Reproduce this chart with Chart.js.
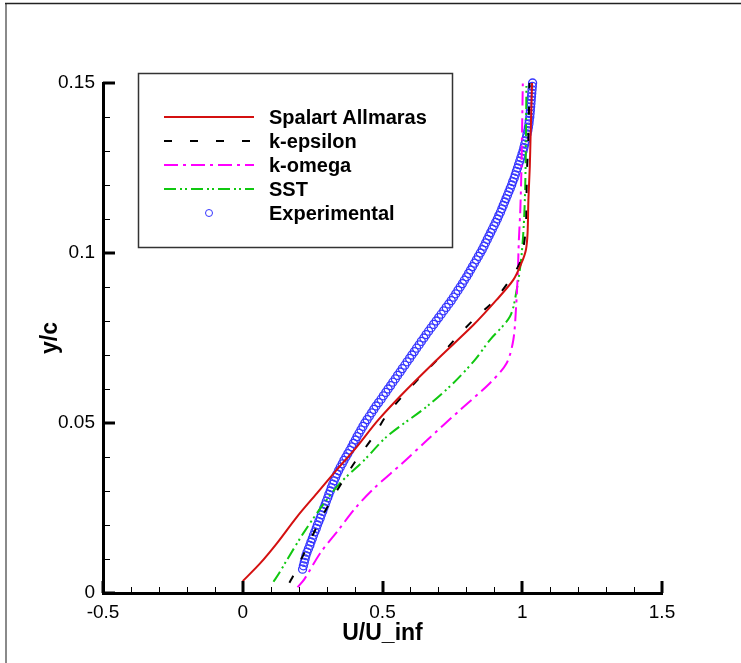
<!DOCTYPE html>
<html>
<head>
<meta charset="utf-8">
<title>Velocity profile</title>
<script src="https://cdn.jsdelivr.net/npm/chart.js@4.4.1/dist/chart.umd.min.js"></script>
<style>
  html, body { margin: 0; padding: 0; background: #fff; }
  #wrap { width: 741px; height: 663px; position: relative; }
</style>
</head>
<body>
<div id="wrap"><canvas id="profileChart" width="741" height="663"></canvas></div>
<script>
/* ---------- data: U/U_inf against y/c ---------- */
const seriesNames = ["Spalart Allmaras", "k-epsilon", "k-omega", "SST", "Experimental"];

const xTickValues = [-0.5, 0, 0.5, 1, 1.5];
const xTickLabels = ["-0.5", "0", "0.5", "1", "1.5"];
const yTickValues = [0, 0.05, 0.1, 0.15];
const yTickLabels = ["0", "0.05", "0.1", "0.15"];

// Spalart Allmaras
const saY = [0.0035, 0.0087, 0.0146, 0.0224, 0.0293, 0.0362, 0.043, 0.0509, 0.0597, 0.0695, 0.0788, 0.0862, 0.0921, 0.097, 0.1009, 0.1058, 0.1156, 0.1254, 0.135, 0.150];
const saU = [0.0, 0.062, 0.122, 0.194, 0.265, 0.336, 0.408, 0.485, 0.585, 0.706, 0.825, 0.908, 0.968, 0.997, 1.013, 1.019, 1.022, 1.027, 1.030, 1.035];

// k-epsilon
const keY = [0.003, 0.0053, 0.0121, 0.0195, 0.0259, 0.0332, 0.0386, 0.046, 0.0524, 0.0582, 0.0634, 0.069, 0.0746, 0.0808, 0.0857, 0.0921, 0.097, 0.1009, 0.1077, 0.1156, 0.1244, 0.1313, 0.150];
const keU = [0.167, 0.182, 0.222, 0.265, 0.307, 0.360, 0.402, 0.467, 0.515, 0.575, 0.634, 0.700, 0.759, 0.831, 0.896, 0.956, 0.991, 1.003, 1.013, 1.015, 1.017, 1.021, 1.026];

// k-omega
const kwY = [0.0017, 0.004, 0.0117, 0.0185, 0.0249, 0.0308, 0.0381, 0.045, 0.0538, 0.0617, 0.0676, 0.0744, 0.0842, 0.094, 0.104, 0.1126, 0.1244, 0.150];
const kwU = [0.196, 0.220, 0.277, 0.342, 0.402, 0.470, 0.570, 0.660, 0.777, 0.884, 0.944, 0.968, 0.978, 0.984, 0.988, 0.993, 0.997, 1.002];

// SST
const sstY = [0.0033, 0.0058, 0.0097, 0.0176, 0.0254, 0.0323, 0.0391, 0.046, 0.0548, 0.0617, 0.0685, 0.0744, 0.0813, 0.0891, 0.0989, 0.1107, 0.1254, 0.150];
const sstU = [0.110, 0.130, 0.158, 0.217, 0.282, 0.348, 0.435, 0.515, 0.658, 0.753, 0.830, 0.884, 0.956, 0.980, 0.997, 1.007, 1.012, 1.015];

// Experimental
const expY = [
  0.007, 0.008, 0.009, 0.010, 0.011, 0.012, 0.013, 0.014, 0.015, 0.016,
  0.017, 0.018, 0.019, 0.020, 0.021, 0.022, 0.023, 0.024, 0.025, 0.026,
  0.027, 0.028, 0.029, 0.030, 0.031, 0.032, 0.033, 0.034, 0.035, 0.036,
  0.037, 0.038, 0.039, 0.040, 0.041, 0.042, 0.043, 0.044, 0.045, 0.046,
  0.047, 0.048, 0.049, 0.050, 0.051, 0.052, 0.053, 0.054, 0.055, 0.056,
  0.057, 0.058, 0.059, 0.060, 0.061, 0.062, 0.063, 0.064, 0.065, 0.066,
  0.067, 0.068, 0.069, 0.070, 0.071, 0.072, 0.073, 0.074, 0.075, 0.076,
  0.077, 0.078, 0.079, 0.080, 0.081, 0.082, 0.083, 0.084, 0.085, 0.086,
  0.087, 0.088, 0.089, 0.090, 0.091, 0.092, 0.093, 0.094, 0.095, 0.096,
  0.097, 0.098, 0.099, 0.100, 0.101, 0.102, 0.103, 0.104, 0.105, 0.106,
  0.107, 0.108, 0.109, 0.110, 0.111, 0.112, 0.113, 0.114, 0.115, 0.116,
  0.117, 0.118, 0.119, 0.120, 0.121, 0.122, 0.123, 0.124, 0.125, 0.126,
  0.127, 0.128, 0.129, 0.130, 0.131, 0.132, 0.133, 0.134, 0.135, 0.136,
  0.137, 0.138, 0.139, 0.140, 0.141, 0.142, 0.143, 0.144, 0.145, 0.146,
  0.147, 0.148, 0.149, 0.150
];
const expU = [
  0.214, 0.217, 0.220, 0.223, 0.226, 0.230, 0.235, 0.240, 0.244, 0.249,
  0.253, 0.258, 0.263, 0.267, 0.272, 0.277, 0.281, 0.286, 0.290, 0.295,
  0.299, 0.304, 0.308, 0.313, 0.317, 0.322, 0.327, 0.332, 0.337, 0.343,
  0.349, 0.356, 0.362, 0.369, 0.376, 0.383, 0.390, 0.396, 0.403, 0.409,
  0.416, 0.423, 0.430, 0.437, 0.445, 0.453, 0.461, 0.469, 0.477, 0.486,
  0.495, 0.503, 0.512, 0.520, 0.529, 0.537, 0.546, 0.554, 0.563, 0.571,
  0.580, 0.588, 0.597, 0.605, 0.614, 0.622, 0.631, 0.639, 0.648, 0.656,
  0.665, 0.674, 0.683, 0.692, 0.701, 0.710, 0.719, 0.728, 0.737, 0.746,
  0.754, 0.762, 0.770, 0.778, 0.786, 0.793, 0.801, 0.808, 0.815, 0.822,
  0.829, 0.836, 0.843, 0.850, 0.857, 0.863, 0.869, 0.875, 0.881, 0.887,
  0.893, 0.899, 0.905, 0.911, 0.916, 0.922, 0.927, 0.932, 0.937, 0.942,
  0.947, 0.952, 0.957, 0.962, 0.966, 0.971, 0.975, 0.979, 0.983, 0.987,
  0.991, 0.995, 0.999, 1.003, 1.006, 1.009, 1.012, 1.015, 1.017, 1.020,
  1.022, 1.024, 1.025, 1.027, 1.028, 1.029, 1.030, 1.031, 1.032, 1.033,
  1.034, 1.035, 1.036, 1.037
];

const toPoints = (us, ys) => us.map((u, i) => ({ x: u, y: ys[i] }));

const FONT = "'Liberation Sans', Arial, Helvetica, sans-serif";
Chart.defaults.font.family = FONT;
Chart.defaults.color = "#000";

/* ---------- plugin: page frame ---------- */
const pageFrame = {
  id: "pageFrame",
  beforeDraw(chart) {
    const ctx = chart.ctx;
    ctx.save();
    ctx.fillStyle = "#fff";
    ctx.fillRect(0, 0, chart.width, chart.height);
    ctx.strokeStyle = "#8a8a8a";
    ctx.lineWidth = 2;
    ctx.beginPath();
    ctx.moveTo(6, 3);
    ctx.lineTo(6, chart.height);
    ctx.stroke();
    ctx.strokeStyle = "#222";
    ctx.lineWidth = 1.5;
    ctx.beginPath();
    ctx.moveTo(5, 3.5);
    ctx.lineTo(chart.width, 3.5);
    ctx.stroke();
    ctx.restore();
  },
};

/* ---------- plugin: inward major / minor ticks ---------- */
const inwardTicks = {
  id: "inwardTicks",
  afterDraw(chart) {
    const { ctx, chartArea: a, scales: { x, y } } = chart;
    ctx.save();
    ctx.strokeStyle = "#000";
    // x: minor every 0.1, major every 0.5
    for (let i = 0; i <= 20; i++) {
      const major = i % 5 === 0;
      const px = Math.round(x.getPixelForValue(-0.5 + i * 0.1));
      ctx.lineWidth = major ? 3 : 1;
      ctx.beginPath();
      ctx.moveTo(major ? px : px + 0.5, a.bottom);
      ctx.lineTo(major ? px : px + 0.5, a.bottom - (major ? 12 : 6));
      ctx.stroke();
    }
    // y: minor every 0.01, major every 0.05
    for (let i = 0; i <= 15; i++) {
      const major = i % 5 === 0;
      const py = Math.round(y.getPixelForValue(i * 0.01));
      ctx.lineWidth = major ? 3 : 1;
      ctx.beginPath();
      ctx.moveTo(a.left, major ? py : py + 0.5);
      ctx.lineTo(a.left + (major ? 12 : 7), major ? py : py + 0.5);
      ctx.stroke();
    }
    ctx.restore();
  },
};

/* ---------- plugin: boxed legend ---------- */
const boxLegend = {
  id: "boxLegend",
  afterDraw(chart) {
    const ctx = chart.ctx;
    ctx.save();
    ctx.fillStyle = "#fff";
    ctx.fillRect(138, 73, 315, 175);
    ctx.strokeStyle = "#333";
    ctx.lineWidth = 1.5;
    ctx.strokeRect(138.5, 73.5, 314, 174);
    ctx.font = "bold 20px " + FONT;
    ctx.textBaseline = "alphabetic";
    chart.data.datasets.forEach((ds, i) => {
      const yy = 117 + i * 24;
      if (ds.showLine) {
        ctx.strokeStyle = ds.borderColor;
        ctx.lineWidth = ds.borderWidth;
        ctx.setLineDash(ds.borderDash || []);
        ctx.beginPath();
        ctx.moveTo(164, yy);
        ctx.lineTo(254, yy);
        ctx.stroke();
        ctx.setLineDash([]);
      } else {
        ctx.strokeStyle = ds.pointBorderColor;
        ctx.lineWidth = 1;
        ctx.beginPath();
        ctx.arc(209, yy, 3.5, 0, Math.PI * 2);
        ctx.stroke();
      }
      ctx.fillStyle = "#000";
      ctx.fillText(ds.label, 269, yy + 7);
    });
    ctx.restore();
  },
};

const lineSet = (label, us, ys, color, dash) => ({
  label,
  data: toPoints(us, ys),
  showLine: true,
  borderColor: color,
  borderWidth: 2,
  borderDash: dash,
  pointRadius: 0,
  tension: 0.3,
  fill: false,
  clip: false,
});

new Chart(document.getElementById("profileChart"), {
  type: "scatter",
  data: {
    datasets: [
      lineSet(seriesNames[0], saU, saY, "#d41010", []),
      lineSet(seriesNames[1], keU, keY, "#000000", [8, 18]),
      lineSet(seriesNames[2], kwU, kwY, "#ff00ff", [14, 5, 3, 5]),
      lineSet(seriesNames[3], sstU, sstY, "#10c810", [12, 4, 2, 3, 2, 4]),
      {
        label: seriesNames[4],
        data: toPoints(expU, expY),
        showLine: false,
        pointRadius: 4,
        pointBorderWidth: 1.3,
        pointBorderColor: "#3636ff",
        pointBackgroundColor: "rgba(0,0,0,0)",
        clip: false,
      },
    ],
  },
  options: {
    responsive: false,
    animation: false,
    layout: { padding: { left: 0, right: 79, top: 83, bottom: 0 } },
    plugins: { legend: { display: false }, tooltip: { enabled: false } },
    scales: {
      x: {
        type: "linear",
        min: -0.5,
        max: 1.5,
        afterBuildTicks: s => { s.ticks = xTickValues.map(v => ({ value: v })); },
        afterFit: s => { s.height = 70; s.paddingLeft = 0; s.paddingRight = 0; },
        grid: { display: false, drawTicks: false },
        border: { display: true, color: "#000", width: 3 },
        ticks: {
          padding: 8,
          color: "#000",
          font: { size: 19 },
          maxRotation: 0,
          autoSkip: false,
          callback: (v, i) => xTickLabels[i],
        },
        title: {
          display: true,
          text: "U/U_inf",
          color: "#000",
          font: { size: 23, weight: "bold" },
          padding: { top: 0, bottom: 16 },
        },
      },
      y: {
        type: "linear",
        min: 0,
        max: 0.15,
        afterBuildTicks: s => { s.ticks = yTickValues.map(v => ({ value: v })); },
        afterFit: s => { s.width = 103; s.paddingTop = 0; s.paddingBottom = 0; },
        grid: { display: false, drawTicks: false },
        border: { display: true, color: "#000", width: 3 },
        ticks: {
          padding: 8,
          color: "#000",
          font: { size: 19 },
          autoSkip: false,
          callback: (v, i) => yTickLabels[i],
        },
        title: {
          display: true,
          text: "y/c",
          color: "#000",
          font: { size: 23, weight: "bold" },
          padding: { top: 37, bottom: 0 },
        },
      },
    },
  },
  plugins: [pageFrame, inwardTicks, boxLegend],
});
</script>
</body>
</html>
